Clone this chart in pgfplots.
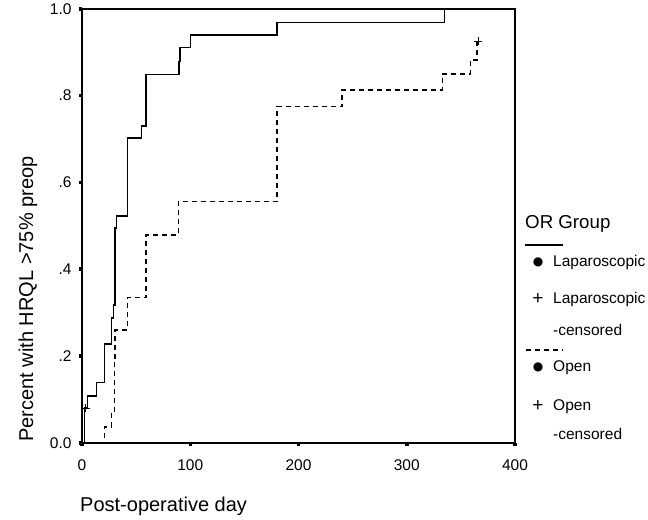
\documentclass[border=0pt]{standalone}
\usepackage{fontspec}
\setmainfont{Liberation Sans}
\newfontfamily\symfont{DejaVu Sans}
\usepackage{pgfplots}
\pgfplotsset{compat=1.18}
\usetikzlibrary{calc}

\begin{document}
\begin{tikzpicture}
\begin{axis}[name=ax, scale only axis, width=433bp, height=434bp,
  xmin=0, xmax=400, ymin=0, ymax=1,
  xtick={0,100,200,300,400}, xticklabels={0,100,200,300,400},
  ytick={0,0.2,0.4,0.6,0.8,1}, yticklabels={0.0,.2,.4,.6,.8,1.0},
  xtick pos=bottom, ytick pos=left,
  tick align=outside, major tick length=3bp,
  every tick/.style={line width=3.5bp, black},
  axis line style={line width=1.4bp},
  ticklabel style={font=\fontsize{15.5bp}{18bp}\selectfont},
  xticklabel style={yshift=-10bp}, yticklabel style={xshift=-4bp},
  clip=false]

% Laparoscopic
\addplot[const plot mark left, line width=1.5bp, black] coordinates {
  (0,0) (2.5,0.08) (5,0.108) (13.5,0.139) (21,0.228) (27.4,0.288)
  (29,0.318) (30.5,0.495) (32,0.523) (42,0.702) (55,0.730) (59,0.849)
  (89.6,0.879) (90.5,0.911) (100,0.940) (180,0.968) (335,1.0)
};
\addplot[only marks, mark=+, mark size=4bp, line width=1.1bp, black] coordinates {(3.5,0.08)};

% Open
\addplot[const plot mark left, line width=1.5bp, black, dash pattern=on 5bp off 4bp] coordinates {
  (0,0) (20.6,0.037) (27.4,0.072) (29.8,0.187) (30.5,0.26) (42,0.335)
  (59,0.479) (89,0.556) (180,0.775) (240,0.813) (333,0.850) (359,0.882)
  (365,0.925)
};
\addplot[only marks, mark=+, mark size=4bp, line width=1.1bp, black] coordinates {(366,0.925)};
\end{axis}

\begin{scope}[shift={(ax.south west)}, x=1bp, y=1bp]
\path[use as bounding box] (-82,-77) rectangle (566,434);
\node[rotate=90, anchor=west, inner sep=0, font=\fontsize{20bp}{24bp}\selectfont] at (-54,1) {Percent with HRQL >75\% preop};
\node[anchor=west, inner sep=0, font=\fontsize{20bp}{24bp}\selectfont] at (-2,-64) {Post-operative day};

\begin{scope}[every node/.style={anchor=west, inner sep=0, font=\fontsize{15.5bp}{18bp}\selectfont}]
\node[font=\fontsize{18.7bp}{22bp}\selectfont] at (443,219) {OR Group};
\draw[line width=1.4bp] (443,198) -- (481,198);
\node[anchor=center, font=\symfont\fontsize{12bp}{14bp}\selectfont] at (456,180) {●};
\node at (471,180) {Laparoscopic};
\node[anchor=center, font=\fontsize{19bp}{22bp}\selectfont] at (456,144) {+};
\node at (471,143) {Laparoscopic};
\node at (471,113) {-censored};
\draw[line width=1.4bp, dash pattern=on 5bp off 4bp] (444,93) -- (481,93);
\node[anchor=center, font=\symfont\fontsize{12bp}{14bp}\selectfont] at (456,75) {●};
\node at (471,75) {Open};
\node[anchor=center, font=\fontsize{19bp}{22bp}\selectfont] at (456,37) {+};
\node at (471,36) {Open};
\node at (471,9) {-censored};
\end{scope}
\end{scope}
\end{tikzpicture}
\end{document}
